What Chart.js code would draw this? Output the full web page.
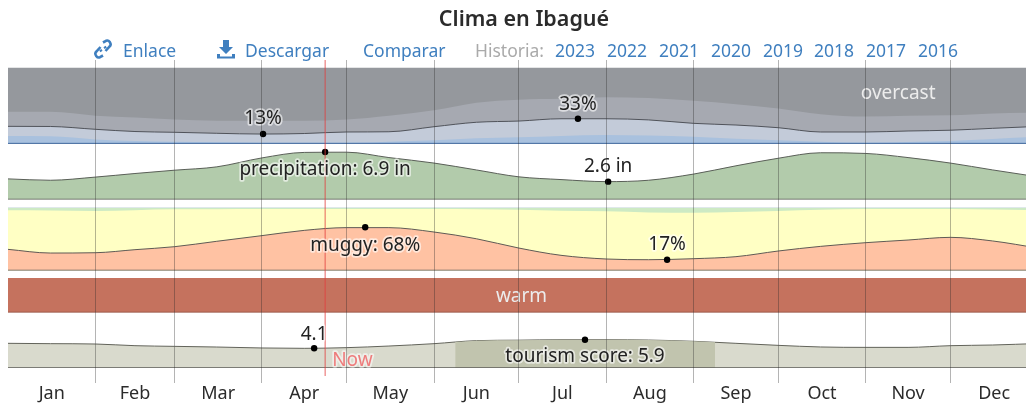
<!DOCTYPE html>
<html lang="es">
<head>
<meta charset="utf-8">
<title>Clima en Ibagué</title>
<script src="https://cdn.jsdelivr.net/npm/chart.js@4"></script>
<style>
html,body{margin:0;padding:0;background:#fff;overflow:hidden;width:1026px;height:408px}
body{position:relative;font-family:"Noto Sans",sans-serif}
#wrap{position:absolute;left:0;top:0;width:1026px;height:408px}
.t{position:absolute;white-space:nowrap;line-height:20px;font-size:17.5px;top:40px;color:#3f7fbf}
.g{color:#aaa}
#title{position:absolute;left:0;width:1048px;text-align:center;top:4px;font-size:21.5px;font-weight:600;line-height:28px;color:#2b2b2b}
svg.i{position:absolute;top:39px;width:20px;height:20px;fill:#3f7fbf}
</style>
</head>
<body>
<div id="wrap"><canvas id="c" width="1026" height="408"></canvas></div>
<div id="title">Clima en Ibagué</div>
<svg class="i" style="left:93px" viewBox="0 0 20 20"><path fill="none" stroke="#3f7fbf" stroke-width="2.6" d="M10 3.5 13 1.8a3 3 0 0 1 3.6 1l.6 1a3 3 0 0 1-.8 3.8L12.5 12M10 16.5 7 18.2a3 3 0 0 1-3.6-1l-.6-1a3 3 0 0 1 .8-3.8L7.500 8M8.500 12.500 7.300 10.800M11.500 7.500 12.700 9.200"/></svg>
<span class="t" style="left:123px">Enlace</span>
<svg class="i" style="left:216px" viewBox="0 0 20 20"><path d="M7 1h6v7h4l-7 7-7-7h4zM1 15h3v2.5h12V15h3v4.5H1z"/></svg>
<span class="t" style="left:245px">Descargar</span>
<span class="t" style="left:363px">Comparar</span>
<span class="t g" style="left:475px">Historia:</span>
<span class="t" style="left:555px">2023</span>
<span class="t" style="left:607px">2022</span>
<span class="t" style="left:659px">2021</span>
<span class="t" style="left:711px">2020</span>
<span class="t" style="left:763px">2019</span>
<span class="t" style="left:814px">2018</span>
<span class="t" style="left:866px">2017</span>
<span class="t" style="left:918px">2016</span>
<script>
// ---- data ----
const monthNames = ["Jan","Feb","Mar","Apr","May","Jun","Jul","Aug","Sep","Oct","Nov","Dec"];
const monthStarts = [31,59,90,120,151,181,212,243,273,304,334];
const monthMiddles = [15.5,45,74.5,105,135.5,166,196.5,227.5,258,288.5,319,349.5];
const days = [0,15,31,45,59,74,90,105,120,135,151,166,181,196,212,227,243,258,273,288,304,319,334,349,365];

// cloud cover, % of time (cumulative boundaries)
const overcastTop   = [100,100,100,100,100,100,100,100,100,100,100,100,100,100,100,100,100,100,100,100,100,100,100,100,100];
const mostlyCloudy  = [42,42,37,34.5,32,30.5,30.5,30.5,32,37,44,54,58,59,61,60,56.5,52,46.5,39,36,37,37.5,40,41];
const partlyCloudy  = [23.1,22.9,19.2,16.3,15.3,14,13,13.7,15.7,16,22.6,28.4,30,33,33,31.5,27,24.8,21.3,15.7,15.7,17,18,20.5,23];
const mostlyClear   = [10.4,10,6,4,3,2.2,1.7,1.7,1.7,3,5,7.5,8.7,10.5,11.7,11,9.5,7,5,3,1.7,2.5,3.9,6.5,9.5];
const clearSky      = [1.5,1.5,1.5,1.5,1.5,1.5,1.5,1.5,1.5,1.5,1.5,1.5,1.5,1.5,1.5,1.5,1.5,1.5,1.5,1.5,1.5,1.5,1.5,1.5,1.5];

// precipitation, inches
const precipitation = [3,2.8,3.26,3.78,4.26,4.75,6.05,6.85,6.88,6.1,5.3,4.3,3.3,2.9,2.6,2.8,3.7,4.9,6,6.8,6.7,6.1,5.3,4.3,3.3];

// humidity comfort, % of time
const humidTop  = [100,100,100,100,100,100,100,100,100,100,100,100,100,100,100,100,100,100,100,100,100,100,100,100,100];
const notDry    = [98.5,98.5,98.5,98.5,98.5,98.5,98.5,98.5,98.5,98.5,98.5,98.5,98.5,98.5,98.5,98.5,98.5,98.5,98.5,98.5,98.5,98.5,98.5,98.5,98.5];
const comfort   = [94.8,94.5,93.7,95,96.3,96.5,96.8,96.8,96.8,96.8,96.8,96.5,95.5,94,93.2,91.5,91,92,93.7,95.5,96.8,96.8,96.8,96,95];
const muggy     = [33.3,27.5,28,32.8,37.5,46,54.9,63.2,67.5,67.5,60.6,50,35.4,23.9,18.1,17,18.6,21.8,30.7,38,43.8,48,52.2,46.5,35.4];

// temperature band
const warm = [100,100,100,100,100,100,100,100,100,100,100,100,100,100,100,100,100,100,100,100,100,100,100,100,100];

// tourism score
const tourism = [5.14,5.07,5,4.65,4.51,4.37,4.17,4.1,4.24,4.58,5.07,5.7,5.8,5.9,5.9,5.83,5.56,5.14,4.72,4.38,4.3,4.3,4.65,4.79,5.1];
const bestDays = [158.5,166,181,196,212,227,243,250.6];
const bestTourism = [5.4,5.7,5.8,5.9,5.9,5.83,5.56,5.36];

const baseDays = [0,365];
const baseZero = [0,0];

const markers = [
  {axis:"yCloud", day:90.4,  value:13,  text:"13%",                  dy:-15},
  {axis:"yCloud", day:202,   value:33,  text:"33%",                  dy:-14},
  {axis:"yPrecip",day:112.4, value:6.9, text:"precipitation: 6.9 in",dy:18},
  {axis:"yPrecip",day:212.7, value:2.6, text:"2.6 in",               dy:-15},
  {axis:"yHumid", day:126.6, value:68,  text:"muggy: 68%",           dy:18},
  {axis:"yHumid", day:233.6, value:17,  text:"17%",                  dy:-15},
  {axis:"yScore", day:108.5, value:4.1, text:"4.1",                  dy:-14},
  {axis:"yScore", day:204.5, value:5.9, text:"tourism score: 5.9",   dy:17}
];
const bandLabels = [
  {axis:"yCloud", day:315.5, value:66, text:"overcast"},
  {axis:"yTemp",  day:182,   value:47, text:"warm"}
];
const nowDay = 112.4;
const nowLabel = "Now";

// ---- layout & styling ----
const LABEL_FONT = '19px "Noto Sans", sans-serif';
const panels = {
  yCloud:  {top:67.5, bottom:144, min:0, max:100},
  yPrecip: {top:144.5,bottom:199.5,min:0, max:8},
  yHumid:  {top:207,  bottom:270.5,min:0, max:100},
  yTemp:   {top:278,  bottom:312.5,min:0, max:100},
  yScore:  {top:320,  bottom:368, min:0, max:10}
};
function zip(xs,ys){return xs.map((x,i)=>({x,y:ys[i]}));}
function area(label,axis,xs,ys,color,order,line){
  return {label,yAxisID:axis,xAxisID:"x",data:zip(xs,ys),fill:"origin",backgroundColor:color,
    borderColor:line||"rgba(0,0,0,0)",borderWidth:line?1:0,pointRadius:0,
    cubicInterpolationMode:"monotone",order};
}
const datasets = [
  area("Overcast","yCloud",days,overcastTop,"#95989d",60),
  area("Mostly cloudy","yCloud",days,mostlyCloudy,"#a6a9b1",59),
  area("Partly cloudy","yCloud",days,partlyCloudy,"#c3cbd9",58,"#50535a"),
  area("Mostly clear","yCloud",days,mostlyClear,"#a9c1de",57),
  area("Clear","yCloud",days,clearSky,"#6a8fc0",56),
  area("Precipitation","yPrecip",days,precipitation,"#b2cbab",50,"#5a5f58"),
  area("Dry edge","yHumid",days,humidTop,"#dfe8ea",49),
  area("Dry","yHumid",days,notDry,"#cdeac4",48),
  area("Comfortable","yHumid",days,comfort,"#ffffc4",47),
  area("Muggy","yHumid",days,muggy,"#ffc2a3",46,"#5f5a55"),
  area("Warm","yTemp",days,warm,"#c5725e",40),
  area("Tourism","yScore",days,tourism,"#d9dacd",35,"#62635a"),
  area("Best tourism","yScore",bestDays,bestTourism,"#c1c4ae",34),
];
["yCloud","yPrecip","yHumid","yTemp","yScore"].forEach((a,i)=>{
  datasets.push({label:"base "+a,yAxisID:a,xAxisID:"x",data:zip(baseDays,baseZero),
    borderColor:i===0?"#4d6f9f":(i===3?"#8e4f40":"#5c5c58"),borderWidth:1.5,pointRadius:0,fill:false,order:20});
});
markers.forEach((m,i)=>{
  datasets.push({label:"m"+i,yAxisID:m.axis,xAxisID:"x",data:[{x:m.day,y:m.value}],showLine:false,
    pointRadius:3.2,pointBackgroundColor:"#000",pointBorderWidth:0,order:1});
});

const panelPlugin = {
  id:"panelPlugin",
  afterLayout(chart){
    const LEFT = 8, RIGHT = 1026;
    chart.chartArea.left = LEFT; chart.chartArea.right = RIGHT; chart.chartArea.width = RIGHT-LEFT;
    ["x","xl"].forEach(k=>{
      const s = chart.scales[k];
      s.left = LEFT; s.right = RIGHT; s.width = RIGHT-LEFT;
      s.paddingLeft = 0; s.paddingRight = 0;
      s.configure();
    });
    Object.keys(panels).forEach(k=>{
      const s = chart.scales[k], p = panels[k];
      s.top = p.top; s.bottom = p.bottom; s.height = p.bottom-p.top;
      s.configure();
    });
  },
  afterDatasetsDraw(chart){
    const ctx = chart.ctx, x = chart.scales.x;
    const halo = (text,px,py,color,haloColor,align)=>{
      ctx.font = LABEL_FONT; ctx.textAlign = align||"center"; ctx.textBaseline = "middle";
      ctx.lineJoin = "round"; ctx.lineWidth = 3.5; ctx.strokeStyle = haloColor;
      ctx.strokeText(text,px,py); ctx.fillStyle = color; ctx.fillText(text,px,py);
    };
    ctx.save();
    const nx = x.getPixelForValue(nowDay);
    ctx.strokeStyle = "rgba(225,60,60,.8)"; ctx.lineWidth = 1;
    ctx.beginPath(); ctx.moveTo(nx,60); ctx.lineTo(nx,376); ctx.stroke();
    halo(nowLabel,nx+7,361,"#ee7c7c","rgba(255,255,255,.55)","left");
    markers.forEach(m=>{
      const px = x.getPixelForValue(m.day), py = chart.scales[m.axis].getPixelForValue(m.value);
      halo(m.text,px,py+m.dy,"#222","rgba(255,255,255,.6)");
    });
    bandLabels.forEach(m=>{
      const px = x.getPixelForValue(m.day), py = chart.scales[m.axis].getPixelForValue(m.value);
      ctx.font = LABEL_FONT; ctx.textAlign="center"; ctx.textBaseline="middle";
      ctx.fillStyle = "#ececec"; ctx.fillText(m.text,px,py);
    });
    ctx.restore();
  }
};

const XMIN = 0, XMAX = 360.8;
const yScales = {};
Object.keys(panels).forEach(k=>{
  yScales[k] = {type:"linear",display:false,min:panels[k].min,max:panels[k].max,position:"left"};
});

new Chart(document.getElementById("c"),{
  type:"line",
  data:{datasets},
  options:{
    responsive:false,animation:false,parsing:true,
    layout:{padding:{left:8,right:0,top:60,bottom:0}},
    plugins:{legend:{display:false},title:{display:false},tooltip:{enabled:false}},
    scales:Object.assign({
      x:{type:"linear",min:XMIN,max:XMAX,position:"bottom",
        afterBuildTicks(a){a.ticks = monthStarts.map(v=>({value:v}));},
        afterFit(a){a.height = 0;},
        ticks:{display:false,padding:0},border:{display:false},
        grid:{z:1,color:"rgba(40,40,40,.35)",lineWidth:1,drawTicks:false}},
      xl:{type:"linear",min:XMIN,max:XMAX,position:"bottom",
        afterBuildTicks(a){a.ticks = monthMiddles.map(v=>({value:v}));},
        afterFit(a){a.height = 25;},
        border:{display:false},grid:{display:false,drawTicks:false},
        ticks:{autoSkip:false,maxRotation:0,minRotation:0,padding:0,color:"#2b2b2b",
          font:{size:18,family:'"Noto Sans", sans-serif'},
          callback(v,i){return monthNames[i];}}}
    },yScales)
  },
  plugins:[panelPlugin]
});
</script>
</body>
</html>
